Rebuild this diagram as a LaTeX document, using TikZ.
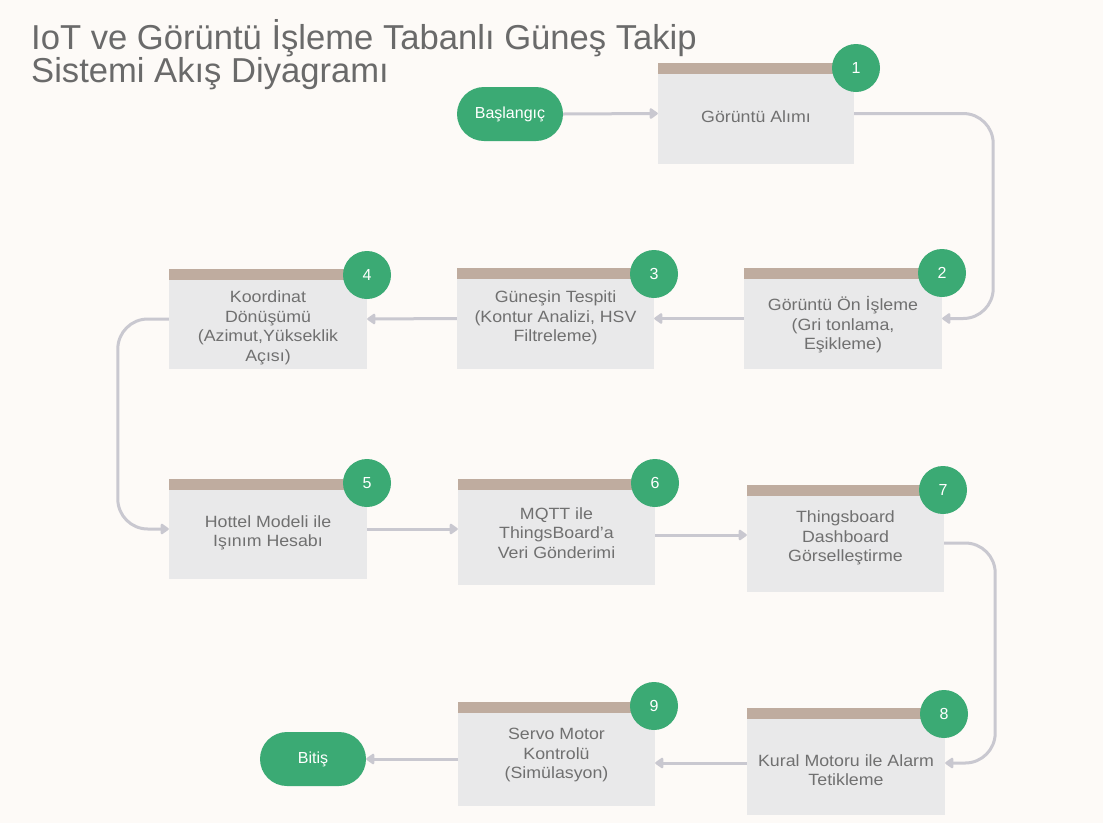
\documentclass[tikz,border=0pt]{standalone}
\usepackage{fontspec}
\setmainfont{Liberation Sans}
\newfontfamily\boxfont{Liberation Sans}[FakeStretch=1.09]
\usetikzlibrary{arrows.meta,calc}
\definecolor{bg}{HTML}{FDFAF7}
\definecolor{boxfill}{HTML}{E9E9EA}
\definecolor{barc}{HTML}{BFAC9F}
\definecolor{grn}{HTML}{3BAA74}
\definecolor{txt}{HTML}{707070}
\definecolor{ttl}{HTML}{6A6A6A}
\definecolor{lnc}{HTML}{C9C8D0}
\begin{document}
\begin{tikzpicture}[x=1pt,y=-1pt,
  stepbox/.style={rectangle, fill=boxfill, inner sep=0pt},
  boxtext/.style={text=txt, font=\boxfont\fontsize{16.3}{19.5}\selectfont, align=center, inner sep=0pt},
  num/.style={circle, fill=grn, minimum size=48pt, inner sep=0pt, text=white, font=\fontsize{16}{16}\selectfont},
  term/.style={rectangle, rounded corners=27pt, fill=grn, minimum width=106pt, minimum height=54pt, inner sep=0pt, text=white, font=\fontsize{16}{16}\selectfont},
  arrowline/.style={draw=lnc, line width=3pt, rounded corners=30pt, -{Triangle[length=9pt,width=12pt,round]}},
]
\useasboundingbox (0,0) rectangle (1103,823);
\fill[bg] (0,0) rectangle (1103,823);

% title
\node[anchor=north west, inner sep=0pt, text=ttl, align=left, font=\fontsize{34.6}{30}\selectfont] (title) at (31,19)
  {IoT ve Görüntü İşleme Tabanlı Güneş Takip\\Sistemi Akış Diyagramı};

% boxes
\node[stepbox, minimum width=196pt, minimum height=101pt] (b1) at (756,113.5) {};
\node[stepbox, minimum width=198pt, minimum height=101pt] (b2) at (843,318.5) {};
\node[stepbox, minimum width=197pt, minimum height=101pt] (b3) at (555.5,318.5) {};
\node[stepbox, minimum width=198pt, minimum height=100pt] (b4) at (268,319) {};
\node[stepbox, minimum width=198pt, minimum height=100pt] (b5) at (268,529) {};
\node[stepbox, minimum width=197pt, minimum height=106pt] (b6) at (556.5,532) {};
\node[stepbox, minimum width=197pt, minimum height=107pt] (b7) at (845.5,538.5) {};
\node[stepbox, minimum width=198pt, minimum height=107pt] (b8) at (846,761.5) {};
\node[stepbox, minimum width=197pt, minimum height=104pt] (b9) at (556.5,754) {};

% top bars
\foreach \b in {b1,b2,b3,b4,b5,b6,b7,b8,b9}
  \fill[barc] (\b.north west) rectangle ($(\b.north east)+(0,11)$);

% texts
\node[boxtext] (t1) at (756,117) {Görüntü Alımı};
\node[boxtext] (t2) at (843,325) {Görüntü Ön İşleme\\(Gri tonlama,\\Eşikleme)};
\node[boxtext] (t3) at (555.5,318) {Güneşin Tespiti\\(Kontur Analizi, HSV\\Filtreleme)};
\node[boxtext] (t4) at (268,328) {Koordinat\\Dönüşümü\\(Azimut,Yükseklik\\Açısı)};
\node[boxtext] (t5) at (268,533) {Hottel Modeli ile\\Işınım Hesabı};
\node[boxtext] (t6) at (556.5,533) {MQTT ile\\ThingsBoard’a\\Veri Gönderimi};
\node[boxtext] (t7) at (845.5,538) {Thingsboard\\Dashboard\\Görselleştirme};
\node[boxtext] (t8) at (846,770) {Kural Motoru ile Alarm\\Tetikleme};
\node[boxtext] (t9) at (556.5,755) {Servo Motor\\Kontrolü\\(Simülasyon)};

% number circles
\node[num] (c1) at (856,68) {1};
\node[num] (c2) at (942,273) {2};
\node[num] (c3) at (654,274) {3};
\node[num] (c4) at (367,275) {4};
\node[num] (c5) at (367,483) {5};
\node[num] (c6) at (655,483) {6};
\node[num] (c7) at (943,490) {7};
\node[num] (c8) at (944,714) {8};
\node[num] (c9) at (654,706) {9};

% terminals
\node[term] (start) at (510,114) {Başlangıç};
\node[term] (end) at (313,759) {Bitiş};

% connectors
\draw[arrowline] (start.east) -- (b1.west);
\draw[arrowline] (b1.east) -- ++(139,0) |- (b2.east);
\draw[arrowline] (b2.west) -- (b3.east);
\draw[arrowline] (b3.west) -- (b4.east);
\draw[arrowline] (b4.west) -- ++(-51,0) |- (b5.west);
\draw[arrowline] (b5.east) -- (b5.east -| b6.west);
\draw[arrowline] ($(b6.east)+(0,3)$) -- ($(b7.west)+(0,-3.5)$);
\draw[arrowline] ($(b7.east)+(0,4.5)$) -- ++(51,0) |- ($(b8.east)+(0,1.5)$);
\draw[arrowline] ($(b8.west)+(0,1.5)$) -- ($(b9.east)+(0,9)$);
\draw[arrowline] (b9.west |- end.east) -- (end.east);
\end{tikzpicture}
\end{document}
